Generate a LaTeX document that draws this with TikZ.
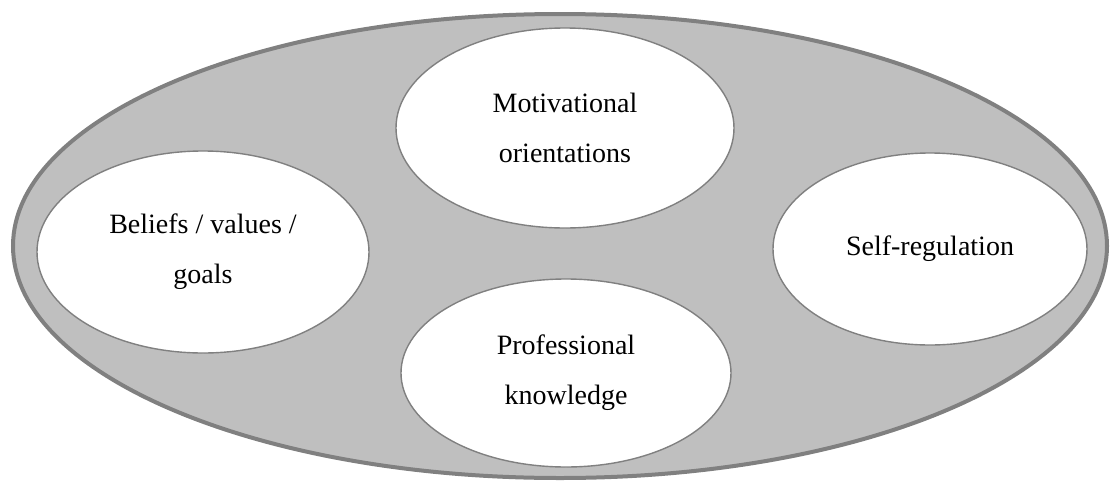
\documentclass[tikz,border=0pt]{standalone}
\usepackage{fontspec}
\setmainfont{Liberation Serif}
\usetikzlibrary{shapes.geometric}

\begin{document}
\begin{tikzpicture}[
    x=0.5pt, y=-0.5pt,
    lbl/.style={font=\fontsize{14}{25}\selectfont, align=center},
    outer/.style={ellipse, draw=black!50, line width=2pt, fill=black!25, inner sep=0pt},
    part/.style={ellipse, draw=black!50, line width=0.7pt, fill=white, inner sep=0pt, lbl}
]

\useasboundingbox (0, 0) rectangle (1110, 483);

\node[outer, minimum width=547pt, minimum height=232pt] (big) at (560, 246) {};
\node[part, minimum width=169pt, minimum height=100pt] (motiv) at (565, 128) {Motivational\\orientations};
\node[part, minimum width=166pt, minimum height=101pt] (beliefs) at (203, 252) {Beliefs / values /\\goals};
\node[part, minimum width=157pt, minimum height=96pt] (selfreg) at (930, 249) {Self-regulation};
\node[part, minimum width=165pt, minimum height=94pt] (prof) at (566, 373) {Professional\\knowledge};

\end{tikzpicture}
\end{document}
